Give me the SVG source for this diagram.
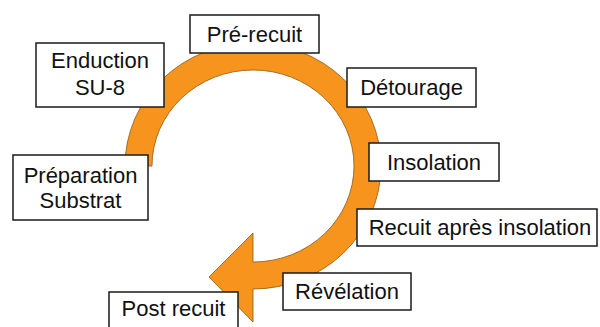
<svg xmlns="http://www.w3.org/2000/svg" width="600" height="327" viewBox="0 0 600 327">
<style>
.box{fill:#fff;stroke:#1a1a1a;stroke-width:1.5}
.t{font-family:"Liberation Sans",Arial,sans-serif;font-size:22px;fill:#111;text-anchor:middle}
.ring{fill:#F7941D;stroke:#8a5a12;stroke-width:0.8}
</style>
<rect width="600" height="327" fill="#fff"/>
<g id="connectors">
<path class="ring" d="M125,166 A128,123 0 1 1 253,289 L253,322 L209,277 L253,233 L253,262 A101,96 0 1 0 152,166 Z"/>
</g>
<g id="n-prerecuit"><rect class="box" x="190" y="15" width="129" height="38"/><text class="t" x="254.5" y="42">Pré-recuit</text></g>
<g id="n-enduction"><rect class="box" x="36" y="43" width="128" height="64"/><text class="t" x="100" y="68">Enduction</text><text class="t" x="100" y="95">SU-8</text></g>
<g id="n-preparation"><rect class="box" x="13" y="155" width="135" height="65"/><text class="t" x="80.5" y="183">Préparation</text><text class="t" x="80.5" y="208">Substrat</text></g>
<g id="n-detourage"><rect class="box" x="347" y="68" width="129" height="39"/><text class="t" x="411.5" y="95">Détourage</text></g>
<g id="n-insolation"><rect class="box" x="369" y="143" width="130" height="38"/><text class="t" x="434" y="170">Insolation</text></g>
<g id="n-recuit"><rect class="box" x="357" y="209" width="240" height="37"/><text class="t" x="480" y="235">Recuit après insolation</text></g>
<g id="n-revelation"><rect class="box" x="283" y="273" width="128" height="37"/><text class="t" x="347" y="299">Révélation</text></g>
<g id="n-postrecuit"><rect class="box" x="109" y="292" width="129" height="40"/><text class="t" x="173.5" y="316">Post recuit</text></g>
</svg>
